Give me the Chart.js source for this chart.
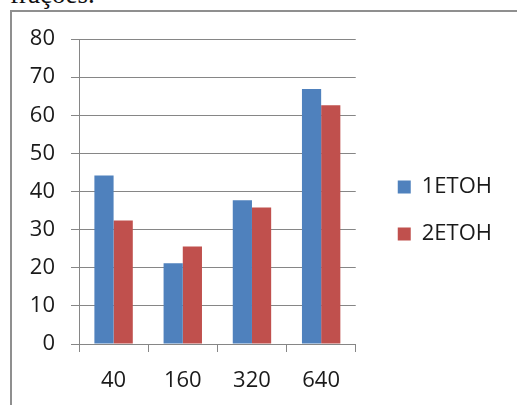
<!DOCTYPE html>
<html>
<head>
<meta charset="utf-8">
<script src="https://cdn.jsdelivr.net/npm/chart.js@4"></script>
<style>
  html, body { margin: 0; padding: 0; background: #fff; overflow: hidden; }
  body { width: 517px; height: 405px; position: relative; }
  #caption {
    position: absolute; left: 10px; top: -19px;
    font-family: "Liberation Serif", serif; font-size: 27px; line-height: 27px;
    color: #111; white-space: nowrap;
  }
  #frame {
    position: absolute; left: 10px; top: 10px; width: 600px; height: 500px;
    border-left: 2px solid #8f8f8f; border-top: 2px solid #8f8f8f;
  }
  #wrap { position: absolute; left: 0; top: 0; width: 517px; height: 405px; }
</style>
</head>
<body>
<div id="caption">frações.</div>
<div id="frame"></div>
<div id="wrap"><canvas id="chart"></canvas></div>
<script>
// Fractions (x axis) and the two ethanol series
const categories = ['40', '160', '320', '640'];
const seriesNames = ['1ETOH', '2ETOH'];
const etoh1 = [44.2, 21.2, 37.7, 66.9];
const etoh2 = [32.4, 25.6, 35.8, 62.6];
const yTicks = [0, 10, 20, 30, 40, 50, 60, 70, 80];

const FONT = { family: '"Open Sans", Lato, sans-serif', size: 22 };
const GRID = '#868686';
const TEXT = '#1a1a1a';

new Chart(document.getElementById('chart'), {
  type: 'bar',
  data: {
    labels: categories,
    datasets: [
      { label: seriesNames[0], data: etoh1, backgroundColor: '#4F81BD' },
      { label: seriesNames[1], data: etoh2, backgroundColor: '#C0504D' }
    ]
  },
  options: {
    responsive: true,
    maintainAspectRatio: false,
    animation: false,
    devicePixelRatio: 1,
    datasets: { bar: { categoryPercentage: 0.555, barPercentage: 1.0 } },
    layout: { padding: { top: 16, left: 0, right: 15, bottom: 0 } },
    scales: {
      x: {
        afterFit: (axis) => { axis.height = 61; },
        grid: { offset: true, drawOnChartArea: false, color: GRID, tickLength: 8, lineWidth: 1 },
        border: { color: GRID, width: 1 },
        ticks: { font: FONT, color: TEXT, padding: 16, maxRotation: 0 }
      },
      y: {
        min: 0, max: 80,
        afterBuildTicks: (axis) => { axis.ticks = yTicks.map(v => ({ value: v })); },
        afterFit: (axis) => { axis.width = 79; },
        grid: { color: GRID, tickLength: 8, lineWidth: 1 },
        border: { color: GRID, width: 1 },
        ticks: { font: FONT, color: TEXT, padding: 16 }
      },
      // empty spacer between the plot and the legend
      gap: {
        type: 'linear', position: 'right', display: true,
        afterFit: (axis) => { axis.width = 17; },
        grid: { display: false }, border: { display: false },
        ticks: { display: false }
      }
    },
    plugins: {
      // empty heading band above the plot
      title: {
        display: true, text: '',
        font: { size: 10, lineHeight: 1 },
        padding: { top: 0, bottom: 13 }
      },
      legend: {
        position: 'right',
        maxWidth: 220,
        labels: {
          font: FONT, color: TEXT,
          boxWidth: 13, boxHeight: 13, padding: 25
        }
      },
      tooltip: { enabled: false }
    }
  }
});
</script>
</body>
</html>
